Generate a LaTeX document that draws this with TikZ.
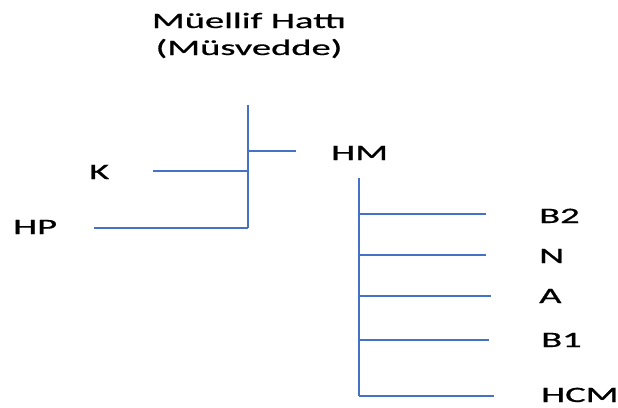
\documentclass[tikz,border=0pt]{standalone}
\usepackage{fontspec}
\setmainfont{Carlito}
\newfontfamily\lblfont{Carlito}[FakeBold=0.6]
\definecolor{lineblue}{HTML}{4472C4}
\newcommand\widetxt[1]{\scalebox{1.75}[1]{#1}}
\begin{document}
\begin{tikzpicture}[x=1pt,y=-1pt,
  branch/.style={draw=lineblue, line width=1.4pt},
  lbl/.style={inner sep=0pt, anchor=base west, font=\lblfont\fontsize{22}{26}\selectfont},
  ttl/.style={inner sep=0pt, anchor=base, font=\lblfont\fontsize{22}{26}\selectfont}]
\useasboundingbox[fill=white] (0,0) rectangle (618,407);
% labels
\node[ttl] (t1) at (249,28) {\widetxt{Müellif Hattı}};
\node[ttl] (t2) at (249,55) {\widetxt{(Müsvedde)}};
\node[lbl] (K) at (89,179) {\widetxt{K}};
\node[lbl] (HP) at (13,234) {\widetxt{HP}};
\node[lbl] (HM) at (331,160) {\widetxt{HM}};
\node[lbl] (B2) at (539,223) {\widetxt{B2}};
\node[lbl] (N) at (539,263) {\widetxt{N}};
\node[lbl] (A) at (539,303) {\widetxt{A}};
\node[lbl] (B1) at (541,347) {\widetxt{B1}};
\node[lbl] (HCM) at (541,402) {\widetxt{HCM}};
% left bracket
\coordinate (lt) at (248,105);
\coordinate (lb) at (248,228);
\coordinate (lm) at (248,151);
\coordinate (lmE) at (296,151);
\coordinate (lk) at (248,171);
\coordinate (kW) at (153,171);
\coordinate (hpW) at (94,228);
\draw[branch] (lt) -- (lb);
\draw[branch] (lm) -- (lmE);
\draw[branch] (kW) -- (lk);
\draw[branch] (hpW) -- (lb);
% right bracket
\coordinate (rt) at (359,178);
\coordinate (rb) at (359,396);
\coordinate (r1) at (359,214);
\coordinate (r1E) at (486,214);
\coordinate (r2) at (359,255);
\coordinate (r2E) at (486,255);
\coordinate (r3) at (359,296);
\coordinate (r3E) at (491,296);
\coordinate (r4) at (359,340);
\coordinate (r4E) at (489,340);
\coordinate (r5E) at (494,396);
\draw[branch] (rt) -- (rb);
\draw[branch] (r1) -- (r1E);
\draw[branch] (r2) -- (r2E);
\draw[branch] (r3) -- (r3E);
\draw[branch] (r4) -- (r4E);
\draw[branch] (rb) -- (r5E);
\end{tikzpicture}
\end{document}
